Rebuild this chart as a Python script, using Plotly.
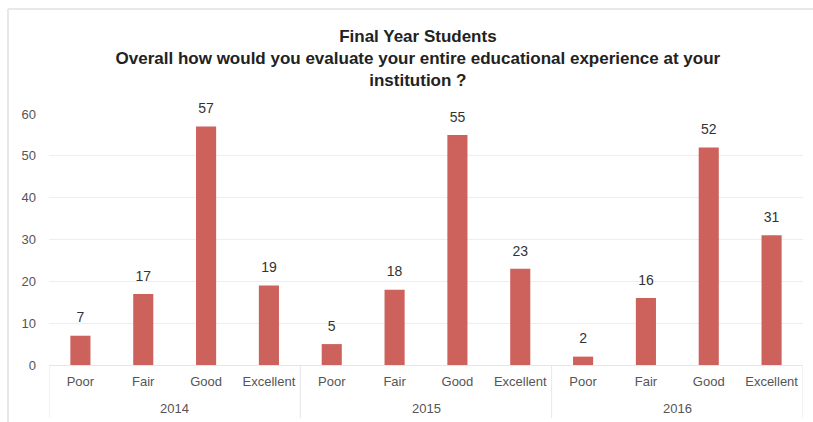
import plotly.graph_objects as go

years = ["2014", "2015", "2016"]
ratings = ["Poor", "Fair", "Good", "Excellent"]
counts = {
    "2014": [7, 17, 57, 19],
    "2015": [5, 18, 55, 23],
    "2016": [2, 16, 52, 31],
}
y_ticks = [0, 10, 20, 30, 40, 50, 60]

x_rating = [r for _ in years for r in ratings]
values = [v for y in years for v in counts[y]]
positions = list(range(len(values)))
n_cat = len(ratings)

FONT = "Liberation Sans, Arial, sans-serif"
GRID = "#e6e6e6"

fig = go.Figure()
fig.add_trace(
    go.Bar(
        x=positions,
        y=values,
        marker=dict(color="#cd615c", line=dict(width=0)),
        width=0.32,
        hovertext=[f"{y} {r}" for y in years for r in ratings],
    )
)
# value labels sitting above each bar
fig.add_trace(
    go.Scatter(
        x=positions,
        y=values,
        mode="markers+text",
        marker=dict(size=14, opacity=0),
        text=[str(v) for v in values],
        textposition="top center",
        textfont=dict(family=FONT, size=14, color="#333333"),
        cliponaxis=False,
        hoverinfo="skip",
    )
)

# group dividers below the axis and year labels under each group
shapes = []
annotations = []
for g, year in enumerate(years):
    left = g * n_cat - 0.5
    shapes.append(dict(type="line", xref="x", yref="paper", x0=left, x1=left,
                       y0=0, y1=-0.211, line=dict(color=GRID, width=1)))
    annotations.append(dict(xref="x", yref="paper", x=g * n_cat + (n_cat - 1) / 2, y=-0.173,
                            text=year, showarrow=False, yanchor="middle",
                            font=dict(family=FONT, size=13, color="#555555")))
last = len(years) * n_cat - 0.5
shapes.append(dict(type="line", xref="x", yref="paper", x0=last, x1=last,
                   y0=0, y1=-0.211, line=dict(color=GRID, width=1)))

# outer frame edges
shapes += [
    dict(type="line", xref="paper", yref="paper", x0=-41 / 754, x1=1.02, y0=1 + 105 / 251, y1=1 + 105 / 251,
         line=dict(color="#e8e8e8", width=2)),
    dict(type="line", xref="paper", yref="paper", x0=-41 / 754, x1=-41 / 754, y0=1 + 105 / 251, y1=-0.3,
         line=dict(color="#e8e8e8", width=2)),
]

fig.update_layout(
    width=813,
    height=422,
    paper_bgcolor="white",
    plot_bgcolor="white",
    margin=dict(l=49, r=10, t=114, b=57),
    showlegend=False,
    font=dict(family=FONT, color="#555555", size=13),
    title=dict(
        text="<b>Final Year Students</b><br><b>Overall how would you evaluate your entire educational experience at your</b><br><b>institution ?</b>",
        x=0.514,
        xanchor="center",
        xref="container",
        y=0.9,
        yanchor="top",
        yref="container",
        automargin=False,
        font=dict(family=FONT, size=17, color="#222222"),
    ),
    xaxis=dict(
        range=[-0.5, len(values) - 0.5],
        tickvals=positions,
        ticktext=x_rating,
        automargin=False,
        tickangle=0,
        showline=True,
        linecolor=GRID,
        linewidth=1,
        showgrid=False,
        zeroline=False,
        ticks="",
        ticklabelstandoff=4,
        tickfont=dict(size=13, color="#555555"),
    ),
    yaxis=dict(
        range=[0, 60],
        automargin=False,
        tickvals=y_ticks,
        showgrid=True,
        gridcolor="#eeeeee",
        gridwidth=1,
        zeroline=False,
        showline=False,
        ticks="",
        ticklabelstandoff=12,
        tickfont=dict(size=13, color="#555555"),
    ),
    shapes=shapes,
    annotations=annotations,
)

fig.write_html("out.html")
